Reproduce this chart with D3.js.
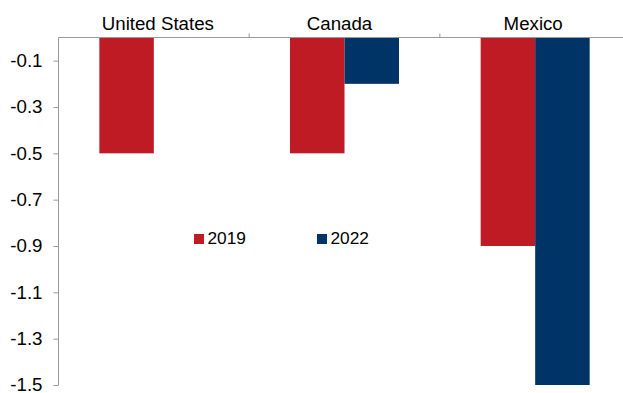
<!DOCTYPE html>
<html><head><meta charset="utf-8">
<script src="https://cdn.jsdelivr.net/npm/d3@7"></script>
<style>body{margin:0;background:#fff}svg{display:block}text{font-family:"Liberation Sans",Arial,sans-serif;fill:#000}</style>
</head><body><svg id="c" width="623" height="393"></svg>
<script>
const categories = ["United States", "Canada", "Mexico"];
const seriesNames = ["2019", "2022"];
const values2019 = [-0.5, -0.5, -0.9];
const values2022 = [0, -0.2, -1.5];
const yTicks = [-0.1, -0.3, -0.5, -0.7, -0.9, -1.1, -1.3, -1.5];
const colors = ["#BE1B24", "#003366"];

(function () {
const svg = d3.select("#c");
const mLeft = 58.5, mRight = 630.5, mTop = 37.5, mBottom = 385;
const x = d3.scaleBand().domain(categories).range([mLeft, mRight]).padding(0);
const y = d3.scaleLinear().domain([0, -1.5]).range([mTop, mBottom]);
const series = [values2019, values2022];
const barW = 54.5;
const FONT = "Liberation Sans, Arial, sans-serif";
const labelNudge = [4, -5, -2];

// bars
series.forEach((vals, si) => {
  svg.append("g").selectAll("rect").data(vals.map((v, i) => ({v, c: categories[i]})))
    .join("rect")
    .attr("x", d => x(d.c) + x.bandwidth() / 2 - barW + si * barW)
    .attr("y", d => y(0))
    .attr("width", barW)
    .attr("height", d => y(d.v) - y(0))
    .attr("fill", colors[si]);
});

// y axis
const yAxis = d3.axisLeft(y).tickValues(yTicks).tickSize(5).tickPadding(11)
  .tickFormat(d => d.toFixed(1));
const gy = svg.append("g").attr("transform", `translate(${mLeft},0)`).call(yAxis);
gy.attr("font-size", null).attr("font-family", null);
gy.select(".domain").attr("stroke", "#999").attr("d", `M0,${mTop}V${mBottom}`);
gy.selectAll(".tick line").attr("stroke", "#999");
gy.selectAll(".tick text").style("font-size", "18.7px").style("font-family", FONT);

// top category axis at zero
const xAxis = d3.axisTop(x).tickSize(0).tickPadding(8);
const gx = svg.append("g").attr("transform", `translate(0,${y(0)})`).call(xAxis);
gx.attr("font-size", null).attr("font-family", null);
gx.select(".domain").attr("stroke", "#999").attr("d", `M${mLeft},0H${mRight}`);
gx.selectAll(".tick text").style("font-size", "18.7px").style("font-family", FONT)
  .attr("dx", (d, i) => labelNudge[i]);
// category separator ticks
svg.append("g").selectAll("line").data(categories.slice(1)).join("line")
  .attr("x1", d => x(d)).attr("x2", d => x(d))
  .attr("y1", y(0) - 4).attr("y2", y(0))
  .attr("stroke", "#999");

// legend
const legendX = [194, 317];
const lg = svg.append("g");
seriesNames.forEach((n, i) => {
  lg.append("rect").attr("x", legendX[i]).attr("y", 234).attr("width", 10).attr("height", 10).attr("fill", colors[i]);
  lg.append("text").attr("x", legendX[i] + 13.5).attr("y", 244).style("font-size", "17.3px").style("font-family", FONT).text(n);
});
})();
</script></body></html>
